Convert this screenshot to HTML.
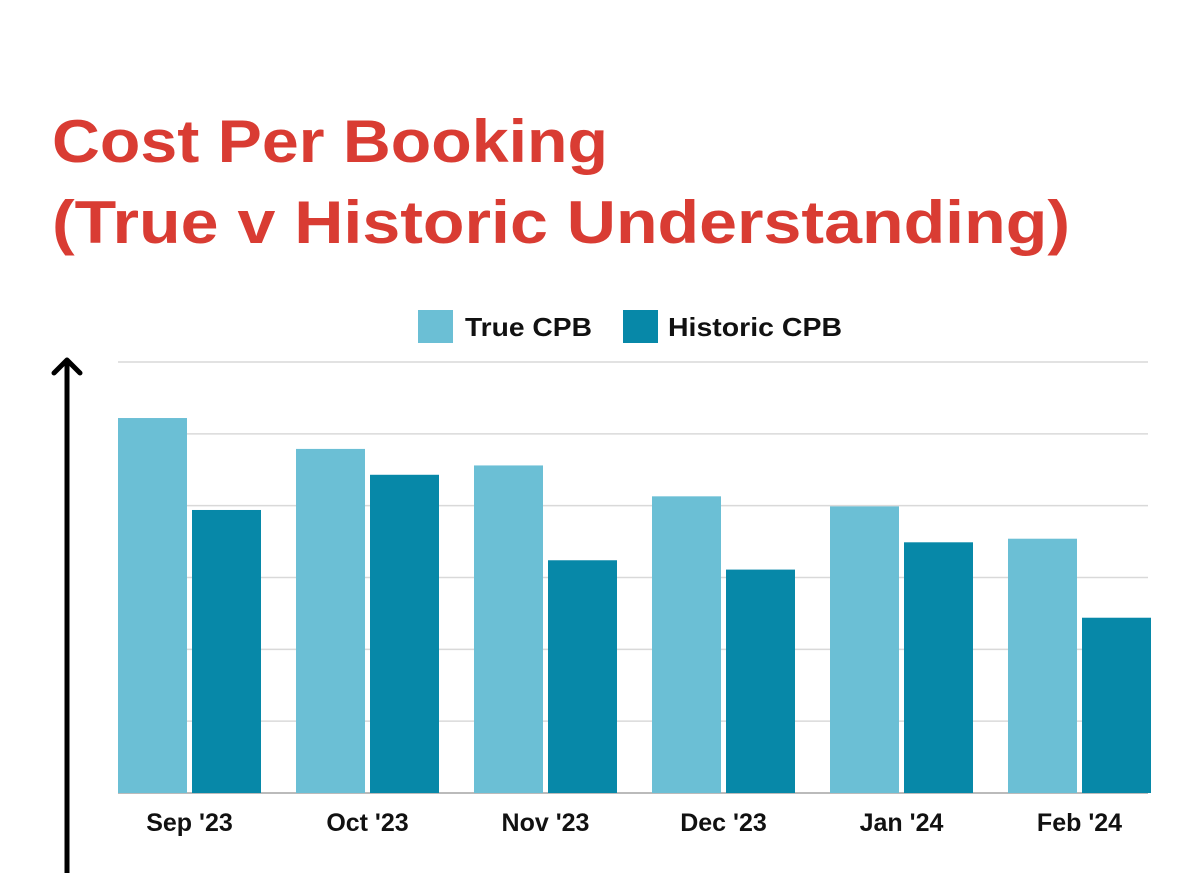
<!DOCTYPE html>
<html><head><meta charset="utf-8"><style>
html,body{margin:0;padding:0;background:#fff;}
svg{display:block;font-family:"Liberation Sans",sans-serif;}
</style></head><body>
<svg width="1200" height="884" viewBox="0 0 1200 884">
<text x="52" y="162" font-size="60" font-weight="bold" fill="#d93c33" textLength="556" lengthAdjust="spacingAndGlyphs">Cost Per Booking</text>
<text x="52" y="243" font-size="60" font-weight="bold" fill="#d93c33" textLength="1018" lengthAdjust="spacingAndGlyphs">(True v Historic Understanding)</text>
<g>
<rect x="418" y="310" width="35" height="33" fill="#6bbfd5"/>
<text x="465" y="336" font-size="26" font-weight="bold" fill="#111" textLength="127" lengthAdjust="spacingAndGlyphs">True CPB</text>
<rect x="623" y="310" width="35" height="33" fill="#0788a8"/>
<text x="668" y="336" font-size="26" font-weight="bold" fill="#111" textLength="174" lengthAdjust="spacingAndGlyphs">Historic CPB</text>
</g>
<g id="grid"></g>
<g id="bars"></g>
<g id="xlabels"></g>
<g>
<line x1="67" y1="873" x2="67" y2="360" stroke="#000" stroke-width="5"/>
<polyline points="54,373 67,360 80,373" fill="none" stroke="#000" stroke-width="5" stroke-linecap="round" stroke-linejoin="round"/>
</g>
</svg>
<script>
const categories=["Sep '23","Oct '23","Nov '23","Dec '23","Jan '24","Feb '24"];
const trueCPB=[5.22,4.79,4.56,4.13,3.99,3.54];
const historicCPB=[3.94,4.43,3.24,3.11,3.49,2.44];
const gridTicks=[0,1,2,3,4,5,6];
const NS="http://www.w3.org/2000/svg";
const x0=118,step=178,bw=69,gap=5,baseY=793,topY=362,ymax=6;
const yScale=v=>baseY-(v/ymax)*(baseY-topY);
const gridG=document.getElementById('grid'),barsG=document.getElementById('bars'),xlG=document.getElementById('xlabels');
gridTicks.forEach(t=>{const l=document.createElementNS(NS,'line');
l.setAttribute('x1',x0);l.setAttribute('x2',1148);l.setAttribute('y1',yScale(t));l.setAttribute('y2',yScale(t));
l.setAttribute('stroke',t===0?'#bbb':'#d9d9d9');l.setAttribute('stroke-width',t===0?2:1.5);


gridG.appendChild(l);});
function drawBar(x,v,c,name){const r=document.createElementNS(NS,'rect');
r.setAttribute('x',x);r.setAttribute('y',yScale(v));r.setAttribute('width',bw);r.setAttribute('height',baseY-yScale(v));r.setAttribute('fill',c);


barsG.appendChild(r);}
categories.forEach((c,i)=>{const gx=x0+i*step;
drawBar(gx,trueCPB[i],'#6bbfd5','bar-true-cpb');
drawBar(gx+bw+gap,historicCPB[i],'#0788a8','bar-historic-cpb');
const t=document.createElementNS(NS,'text');t.setAttribute('x',gx+bw+gap/2);t.setAttribute('y',831);
t.setAttribute('text-anchor','middle');t.setAttribute('font-size','25');t.setAttribute('font-weight','bold');t.setAttribute('fill','#111');
t.textContent=c;


xlG.appendChild(t);});
</script>
</body></html>
